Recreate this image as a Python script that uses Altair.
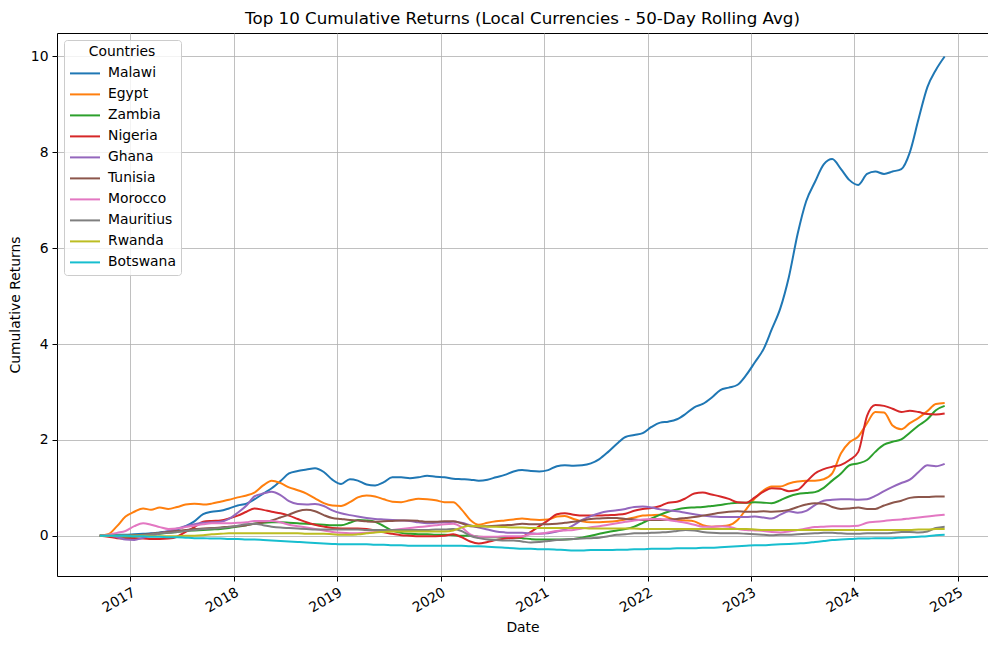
import altair as alt
import pandas as pd

countries = ["Malawi", "Egypt", "Zambia", "Nigeria", "Ghana", "Tunisia",
             "Morocco", "Mauritius", "Rwanda", "Botswana"]
colors = ["#1f77b4", "#ff7f0e", "#2ca02c", "#d62728", "#9467bd",
          "#8c564b", "#e377c2", "#7f7f7f", "#bcbd22", "#17becf"]

# monthly observations, mid-month, Sep 2016 .. Nov 2024
dates = pd.date_range("2016-09-01", "2024-11-01", freq="MS") + pd.Timedelta(days=14)

malawi = [0.0, 0.01, 0.02, 0.02,
          0.03, 0.04, 0.05, 0.07, 0.09, 0.13, 0.2, 0.3, 0.45, 0.5, 0.52, 0.57,
          0.63, 0.67, 0.76, 0.88, 0.99, 1.14, 1.3, 1.35, 1.38, 1.41, 1.33, 1.17,
          1.08, 1.18, 1.15, 1.07, 1.05, 1.12, 1.22, 1.22, 1.2, 1.22, 1.25, 1.23,
          1.22, 1.19, 1.18, 1.17, 1.15, 1.17, 1.22, 1.27, 1.34, 1.37, 1.35, 1.34,
          1.37, 1.45, 1.47, 1.46, 1.47, 1.51, 1.6, 1.75, 1.92, 2.06, 2.1, 2.14,
          2.27, 2.36, 2.38, 2.43, 2.54, 2.68, 2.75, 2.88, 3.04, 3.09, 3.15, 3.35,
          3.62, 3.9, 4.3, 4.75, 5.4, 6.3, 6.98, 7.38, 7.75, 7.86, 7.65, 7.42,
          7.32, 7.55, 7.6, 7.55, 7.6, 7.65, 8.0, 8.7, 9.36, 9.72, 10.0]
egypt = [0.0, 0.03, 0.2, 0.4,
         0.5, 0.57, 0.54, 0.59, 0.56, 0.6, 0.65, 0.67, 0.65, 0.67, 0.71, 0.75,
         0.8, 0.84, 0.9, 1.05, 1.15, 1.1, 1.01, 0.95, 0.88, 0.78, 0.68, 0.63,
         0.62, 0.7, 0.8, 0.84, 0.82, 0.76, 0.71, 0.7, 0.74, 0.77, 0.76, 0.74,
         0.7, 0.7, 0.55, 0.33, 0.23, 0.27, 0.3, 0.32, 0.34, 0.36, 0.34, 0.33,
         0.34, 0.4, 0.41, 0.35, 0.3, 0.28, 0.28, 0.29, 0.31, 0.34, 0.38, 0.42,
         0.43, 0.44, 0.38, 0.33, 0.32, 0.3, 0.22, 0.19, 0.2, 0.22, 0.33, 0.55,
         0.78, 0.95, 1.03, 1.03, 1.09, 1.13, 1.15, 1.15, 1.18, 1.3, 1.72, 1.95,
         2.07, 2.35, 2.58, 2.57, 2.3, 2.22, 2.35, 2.46, 2.6, 2.75, 2.77]
zambia = [0.0, 0.0, -0.01, -0.02,
          -0.02, 0.0, 0.02, 0.04, 0.06, 0.08, 0.1, 0.11, 0.12, 0.13, 0.14, 0.16,
          0.19, 0.22, 0.25, 0.27, 0.28, 0.28, 0.27, 0.26, 0.25, 0.24, 0.23, 0.22,
          0.22, 0.27, 0.33, 0.32, 0.29, 0.2, 0.11, 0.06, 0.04, 0.03, 0.03, 0.02,
          0.02, 0.01, 0.0, 0.0, -0.02, -0.03, -0.03, -0.04, -0.04, -0.05, -0.07, -0.08,
          -0.08, -0.08, -0.08, -0.07, -0.04, 0.0, 0.04, 0.08, 0.11, 0.14, 0.19, 0.27,
          0.36, 0.44, 0.5, 0.55, 0.58, 0.59, 0.6, 0.62, 0.64, 0.67, 0.69, 0.69,
          0.7, 0.69, 0.68, 0.74, 0.82, 0.87, 0.89, 0.91, 1.0, 1.15, 1.3, 1.47,
          1.51, 1.58, 1.75, 1.9, 1.96, 2.01, 2.15, 2.3, 2.43, 2.62, 2.71]
nigeria = [0.0, -0.02, -0.05, -0.06,
           -0.06, -0.06, -0.07, -0.07, -0.06, -0.02, 0.08, 0.18, 0.29, 0.31, 0.32, 0.36,
           0.42, 0.5, 0.57, 0.54, 0.5, 0.47, 0.42, 0.35, 0.28, 0.23, 0.19, 0.16,
           0.15, 0.15, 0.15, 0.14, 0.11, 0.07, 0.04, 0.01, 0.0, -0.01, -0.01, -0.01,
           0.0, 0.03, -0.03, -0.12, -0.16, -0.13, -0.09, -0.06, -0.04, -0.02, 0.08, 0.2,
           0.32, 0.45, 0.47, 0.44, 0.42, 0.42, 0.42, 0.43, 0.44, 0.46, 0.52, 0.56,
           0.58, 0.62, 0.69, 0.71, 0.78, 0.88, 0.9, 0.86, 0.82, 0.77, 0.7, 0.69,
           0.8, 0.92, 0.99, 0.98, 0.93, 0.96, 1.12, 1.3, 1.39, 1.44, 1.48, 1.58,
           1.75, 2.5, 2.73, 2.71, 2.65, 2.58, 2.61, 2.58, 2.54, 2.53, 2.55]
ghana = [0.0, 0.0, -0.03, -0.08,
         -0.09, -0.04, 0.0, 0.05, 0.1, 0.15, 0.2, 0.24, 0.27, 0.28, 0.29, 0.35,
         0.48, 0.63, 0.82, 0.88, 0.92, 0.85, 0.72, 0.66, 0.65, 0.66, 0.62, 0.53,
         0.47, 0.43, 0.4, 0.37, 0.35, 0.34, 0.33, 0.32, 0.31, 0.28, 0.26, 0.27,
         0.28, 0.29, 0.27, 0.22, 0.17, 0.13, 0.09, 0.07, 0.06, 0.06, 0.05, 0.04,
         0.05, 0.09, 0.13, 0.22, 0.33, 0.41, 0.47, 0.51, 0.53, 0.56, 0.6, 0.61,
         0.59, 0.55, 0.53, 0.51, 0.48, 0.45, 0.42, 0.4, 0.39, 0.39, 0.39, 0.39,
         0.4, 0.38, 0.36, 0.44, 0.51, 0.48, 0.52, 0.64, 0.73, 0.75, 0.76, 0.76,
         0.75, 0.76, 0.83, 0.93, 1.02, 1.1, 1.17, 1.33, 1.47, 1.45, 1.5]
tunisia = [0.0, 0.0, 0.0, 0.0,
           0.01, 0.02, 0.04, 0.06, 0.08, 0.1, 0.12, 0.14, 0.15, 0.16, 0.17, 0.19,
           0.2, 0.22, 0.25, 0.28, 0.32, 0.38, 0.44, 0.51, 0.54, 0.51, 0.43, 0.37,
           0.35, 0.33, 0.32, 0.3, 0.29, 0.3, 0.31, 0.32, 0.32, 0.31, 0.29, 0.29,
           0.3, 0.3, 0.26, 0.2, 0.19, 0.2, 0.21, 0.22, 0.23, 0.25, 0.24, 0.24,
           0.24, 0.25, 0.27, 0.29, 0.32, 0.35, 0.36, 0.37, 0.37, 0.35, 0.34, 0.33,
           0.33, 0.33, 0.34, 0.35, 0.37, 0.39, 0.42, 0.45, 0.48, 0.5, 0.51, 0.5,
           0.5, 0.51, 0.5, 0.51, 0.54, 0.6, 0.65, 0.68, 0.67, 0.6, 0.56, 0.57,
           0.59, 0.56, 0.56, 0.63, 0.69, 0.73, 0.79, 0.81, 0.81, 0.82, 0.82]
morocco = [0.0, 0.02, 0.06, 0.1,
           0.2, 0.26, 0.23, 0.18, 0.14, 0.15, 0.18, 0.21, 0.24, 0.26, 0.26, 0.26,
           0.27, 0.28, 0.31, 0.31, 0.31, 0.28, 0.23, 0.2, 0.17, 0.14, 0.11, 0.08,
           0.06, 0.05, 0.05, 0.06, 0.08, 0.1, 0.12, 0.14, 0.16, 0.18, 0.2, 0.22,
           0.24, 0.25, 0.18, 0.03, -0.02, -0.02, -0.02, -0.01, -0.01, -0.01, 0.03, 0.04,
           0.07, 0.1, 0.11, 0.12, 0.15, 0.18, 0.2, 0.23, 0.26, 0.29, 0.32, 0.34,
           0.35, 0.35, 0.33, 0.3, 0.27, 0.23, 0.19, 0.19, 0.2, 0.19, 0.14, 0.12,
           0.11, 0.1, 0.08, 0.07, 0.09, 0.12, 0.15, 0.18, 0.19, 0.2, 0.2, 0.2,
           0.21, 0.27, 0.29, 0.31, 0.33, 0.34, 0.36, 0.38, 0.4, 0.42, 0.44]
mauritius = [0.0, 0.0, 0.0, 0.0,
             0.0, 0.01, 0.03, 0.05, 0.06, 0.08, 0.1, 0.12, 0.14, 0.15, 0.16, 0.18,
             0.21, 0.24, 0.25, 0.22, 0.19, 0.17, 0.16, 0.15, 0.14, 0.13, 0.13, 0.13,
             0.13, 0.13, 0.13, 0.12, 0.12, 0.12, 0.12, 0.12, 0.12, 0.12, 0.12, 0.13,
             0.13, 0.14, 0.1, 0.0, -0.05, -0.08, -0.09, -0.1, -0.1, -0.12, -0.14, -0.13,
             -0.11, -0.09, -0.08, -0.07, -0.06, -0.05, -0.04, -0.01, 0.02, 0.03, 0.05, 0.05,
             0.06, 0.07, 0.08, 0.1, 0.12, 0.11, 0.08, 0.06, 0.05, 0.05, 0.05, 0.04,
             0.03, 0.02, 0.01, 0.02, 0.02, 0.03, 0.04, 0.05, 0.06, 0.06, 0.05, 0.04,
             0.04, 0.05, 0.05, 0.05, 0.06, 0.08, 0.08, 0.07, 0.09, 0.16, 0.19]
rwanda = [0.0, 0.0, 0.0, 0.0,
          0.0, 0.0, -0.01, -0.01, -0.01, -0.01, 0.0, 0.0, 0.01, 0.03, 0.04, 0.05,
          0.05, 0.05, 0.05, 0.05, 0.05, 0.05, 0.05, 0.05, 0.04, 0.04, 0.04, 0.03,
          0.02, 0.02, 0.03, 0.05, 0.07, 0.08, 0.09, 0.09, 0.09, 0.09, 0.09, 0.09,
          0.09, 0.11, 0.17, 0.21, 0.2, 0.19, 0.19, 0.18, 0.17, 0.17, 0.16, 0.16,
          0.16, 0.16, 0.16, 0.16, 0.16, 0.15, 0.15, 0.15, 0.15, 0.15, 0.15, 0.14,
          0.14, 0.14, 0.14, 0.14, 0.14, 0.14, 0.14, 0.14, 0.14, 0.14, 0.14, 0.14,
          0.13, 0.12, 0.12, 0.12, 0.12, 0.12, 0.12, 0.12, 0.12, 0.12, 0.12, 0.12,
          0.12, 0.12, 0.12, 0.12, 0.12, 0.12, 0.12, 0.13, 0.13, 0.14, 0.14]
botswana = [0.0, 0.0, 0.0, 0.0,
            -0.01, -0.01, -0.02, -0.02, -0.03, -0.03, -0.04, -0.05, -0.05, -0.06, -0.06, -0.07,
            -0.07, -0.08, -0.08, -0.09, -0.1, -0.11, -0.12, -0.13, -0.14, -0.15, -0.16, -0.17,
            -0.18, -0.18, -0.18, -0.18, -0.19, -0.19, -0.2, -0.2, -0.21, -0.21, -0.21, -0.21,
            -0.21, -0.21, -0.21, -0.22, -0.22, -0.23, -0.24, -0.25, -0.26, -0.27, -0.27, -0.28,
            -0.28, -0.29, -0.3, -0.31, -0.31, -0.3, -0.3, -0.3, -0.29, -0.29, -0.28, -0.28,
            -0.27, -0.27, -0.27, -0.26, -0.26, -0.26, -0.25, -0.25, -0.24, -0.23, -0.22, -0.21,
            -0.2, -0.2, -0.19, -0.18, -0.17, -0.16, -0.15, -0.13, -0.11, -0.09, -0.08, -0.07,
            -0.06, -0.06, -0.05, -0.05, -0.05, -0.04, -0.03, -0.02, -0.01, 0.01, 0.02]

year_ticks = [2017, 2018, 2019, 2020, 2021, 2022, 2023, 2024, 2025]
y_ticks = [0, 2, 4, 6, 8, 10]

series = [malawi, egypt, zambia, nigeria, ghana, tunisia, morocco, mauritius, rwanda, botswana]
rows = []
for name, vals in zip(countries, series):
    assert len(vals) == len(dates), (name, len(vals))
    for d, v in zip(dates, vals):
        rows.append({"Date": d, "Country": name, "Return": v})
df = pd.DataFrame(rows)

FONT = "DejaVu Sans"

chart = alt.Chart(df).mark_line(strokeWidth=2, interpolate="monotone").encode(
    x=alt.X("Date:T",
            scale=alt.Scale(domain=[alt.DateTime(year=2016, month=4, date=17),
                                    alt.DateTime(year=2025, month=4, date=17)]),
            axis=alt.Axis(values=[alt.DateTime(year=y, month=1, date=1) for y in year_ticks],
                          format="%Y", labelAngle=-30, labelAlign="right",
                          labelBaseline="top", title="Date", titlePadding=6)),
    y=alt.Y("Return:Q",
            scale=alt.Scale(domain=[-0.84, 10.49], nice=False, zero=False),
            axis=alt.Axis(values=y_ticks, title="Cumulative Returns", titlePadding=8)),
    color=alt.Color("Country:N",
                    scale=alt.Scale(domain=countries, range=colors),
                    sort=countries,
                    legend=alt.Legend(title="Countries", orient="top-left", offset=7,
                                      symbolType="M-1,0H3", symbolSize=225,
                                      symbolStrokeWidth=2, rowPadding=5,
                                      labelOffset=22, padding=5, titlePadding=6,
                                      titleAnchor="middle", titleAlign="center",
                                      fillColor="rgba(255,255,255,0.8)",
                                      strokeColor="#cccccc", cornerRadius=3)),
    order=alt.Order("Date:T"),
).properties(
    width=931, height=543,
    title=alt.TitleParams("Top 10 Cumulative Returns (Local Currencies - 50-Day Rolling Avg)",
                          fontSize=16.7, fontWeight="normal", font=FONT,
                          anchor="middle", offset=5, color="black"),
    autosize=alt.AutoSizeParams(type="none"),
    padding={"left": 49, "top": 25, "right": 0, "bottom": 61},
).configure(font=FONT).configure_view(
    stroke="black", strokeWidth=1
).configure_axis(
    grid=True, gridColor="#b0b0b0", gridWidth=0.8, domain=False,
    tickColor="black", tickSize=5, tickWidth=1, labelPadding=4,
    labelFontSize=13.9, labelColor="black", labelFont=FONT,
    titleFontSize=13.9, titleFontWeight="normal", titleColor="black", titleFont=FONT,
    labelFlush=False, labelOverlap=False,
).configure_legend(
    labelFontSize=13.9, titleFontSize=13.9, titleFontWeight="normal",
    labelColor="black", titleColor="black", labelFont=FONT, titleFont=FONT,
)

chart.save("out.html", embed_options={"renderer": "svg", "actions": False})
